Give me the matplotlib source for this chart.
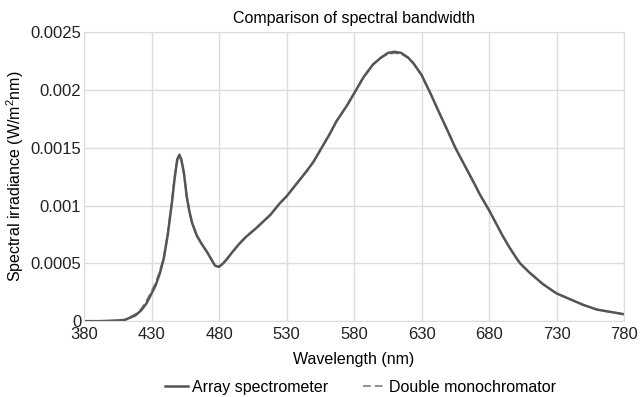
import numpy as np
import matplotlib
matplotlib.use("Agg")
import matplotlib.pyplot as plt

plt.rcParams['font.family'] = ['Liberation Sans', 'DejaVu Sans']
plt.rcParams['mathtext.fontset'] = 'custom'
plt.rcParams['mathtext.rm'] = 'Liberation Sans'

# wavelength (nm) and irradiance
wavelength = [380, 390, 400, 410, 414, 418, 422, 426, 430, 433, 436, 439, 442, 445, 447,
              449, 450.6, 452, 454, 456, 458, 460, 463.5, 467, 471, 474, 477, 480, 483, 486,
              490, 495, 500, 508, 518, 525, 530, 537.5, 545, 550, 556, 562, 567, 575, 582,
              587, 594, 600, 605, 610, 615, 620, 624, 630, 637, 644, 650, 655, 660, 665,
              670, 673, 678, 680, 685, 690, 695, 700, 703, 710, 720, 730, 740, 750, 760,
              770, 780]
array_spec = [0.0, 0.0, 0.000003, 0.00001, 0.00003, 0.00005, 0.00009, 0.00015, 0.00024, 0.00031,
              0.00041, 0.00054, 0.00075, 0.00102, 0.00123,
              0.0014, 0.00144, 0.0014, 0.00128, 0.00108, 0.00095, 0.00085, 0.00074, 0.00067,
              0.0006, 0.00054, 0.00048, 0.00047, 0.0005, 0.00054,
              0.0006, 0.00067, 0.00073, 0.00081, 0.00092, 0.00102, 0.00108, 0.00119, 0.0013,
              0.00138, 0.0015, 0.00162, 0.00173, 0.00187, 0.00201,
              0.00211, 0.00222, 0.00228, 0.00232, 0.00233, 0.00232, 0.00228, 0.00223, 0.00213,
              0.00196, 0.00178, 0.00163, 0.0015, 0.00139, 0.00128,
              0.00117, 0.0011, 0.001, 0.00096, 0.00085, 0.00074, 0.00064, 0.00055, 0.0005,
              0.00042, 0.00032, 0.00024, 0.00019, 0.00014, 0.0001,
              0.00008, 0.00006]
double_mono = [0.0, 0.0, 0.000004, 0.000012, 0.000035, 0.00006, 0.0001, 0.00017, 0.00026, 0.00033,
               0.00043, 0.00055, 0.00076, 0.00103, 0.00124,
               0.00139, 0.00143, 0.00139, 0.00127, 0.00108, 0.00095, 0.00085, 0.00074, 0.00067,
               0.0006, 0.00054, 0.00048, 0.00047, 0.0005, 0.00054,
               0.0006, 0.00067, 0.00073, 0.00081, 0.00092, 0.00102, 0.00108, 0.00119, 0.0013,
               0.00138, 0.0015, 0.00162, 0.00173, 0.00187, 0.00201,
               0.00211, 0.00222, 0.00228, 0.00231, 0.00232, 0.00231, 0.00228, 0.00223, 0.00213,
               0.00196, 0.00178, 0.00163, 0.0015, 0.00139, 0.00128,
               0.00117, 0.0011, 0.001, 0.00096, 0.00085, 0.00074, 0.00064, 0.00055, 0.0005,
               0.00042, 0.00032, 0.00024, 0.00019, 0.00014, 0.0001,
               0.00008, 0.00006]

xticks = [380, 430, 480, 530, 580, 630, 680, 730, 780]
yticks = [0, 0.0005, 0.001, 0.0015, 0.002, 0.0025]
ytick_labels = ["0", "0.0005", "0.001", "0.0015", "0.002", "0.0025"]

fig = plt.figure(figsize=(6.42, 3.97), dpi=100)
ax = fig.add_axes([0.131, 0.191, 0.841, 0.728])

ax.plot(wavelength, double_mono, color="#8f8f8f", lw=1.4, ls=(0, (4, 2)), label="Double monochromator")
ax.plot(wavelength, array_spec, color="#555555", lw=1.8, label="Array spectrometer")

ax.set_xlim(380, 780)
ax.set_ylim(0, 0.0025)
ax.set_xticks(xticks)
ax.set_xticklabels([str(t) for t in xticks])
ax.set_yticks(yticks)
ax.set_yticklabels(ytick_labels)
ax.tick_params(length=0, labelsize=12, colors="#222222")
ax.tick_params(axis="x", pad=4.5)
ax.tick_params(axis="y", pad=2)
ax.grid(True, color="#dcdcdc", lw=1)
ax.set_axisbelow(True)
for s in ax.spines.values():
    s.set_color("#dcdcdc")

ax.set_title("Comparison of spectral bandwidth", fontsize=11.5, pad=6.5)
ax.set_xlabel("Wavelength (nm)", fontsize=11.5, labelpad=7)
ax.set_ylabel("Spectral irradiance (W/m$^{2}$nm)", fontsize=11.5, labelpad=3)

handles, labels = ax.get_legend_handles_labels()
fig.legend(handles[::-1], labels[::-1], loc="center", bbox_to_anchor=(0.562, 0.024),
           ncol=2, frameon=False, fontsize=11.5, handlelength=1.45, handletextpad=0.2,
           columnspacing=2.2)

fig.savefig("out.png", dpi=100)
